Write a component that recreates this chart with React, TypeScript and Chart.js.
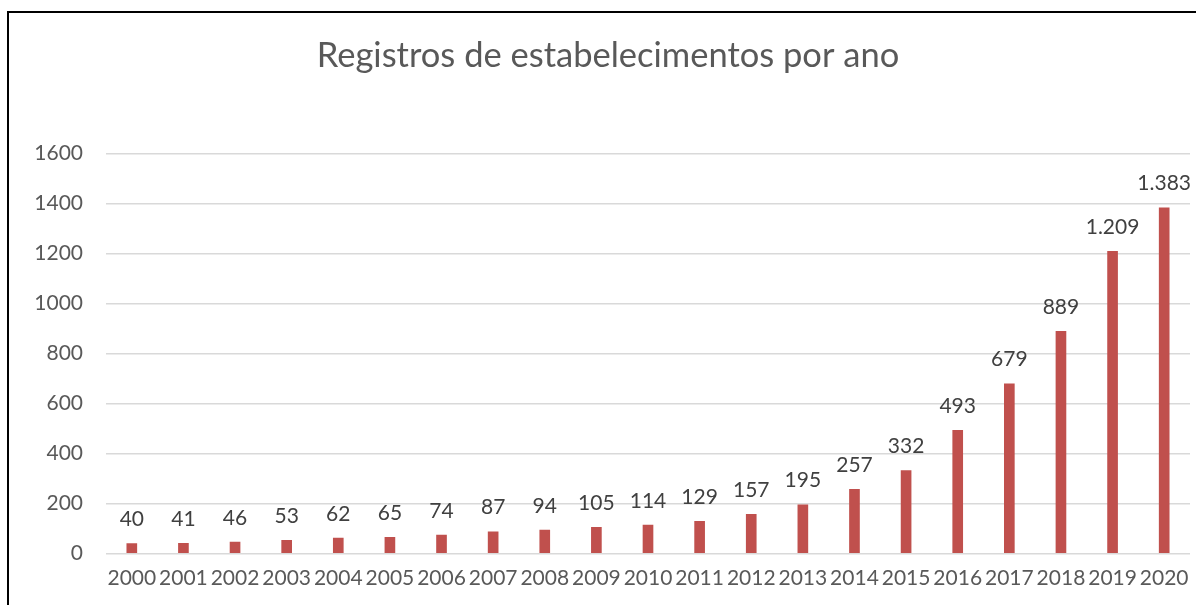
import React, { useEffect, useRef } from "react";
import { Chart, registerables } from "chart.js";

Chart.register(...registerables);

const years = ["2000","2001","2002","2003","2004","2005","2006","2007","2008","2009","2010","2011","2012","2013","2014","2015","2016","2017","2018","2019","2020"];
const registros = [40, 41, 46, 53, 62, 65, 74, 87, 94, 105, 114, 129, 157, 195, 257, 332, 493, 679, 889, 1209, 1383];
const titleText = "Registros de estabelecimentos por ano";
const yMax = 1600;
const yStep = 200;

const FONT = "Lato, 'Open Sans', sans-serif";

function fmt(v: number): string {
  return String(v).replace(/\B(?=(\d{3})+(?!\d))/g, ".");
}

const labelPlugin = {
  id: "barLabels",
  afterLayout(chart: any) {
    if (chart.titleBlock) {
      chart.titleBlock.left = 26;
      chart.titleBlock.right = 1190;
    }
  },
  afterDatasetsDraw(chart: any) {
    const ctx = chart.ctx;
    const meta = chart.getDatasetMeta(0);
    ctx.save();
    ctx.font = `21px ${FONT}`;
    ctx.fillStyle = "#404040";
    ctx.textAlign = "center";
    ctx.textBaseline = "alphabetic";
    meta.data.forEach((bar: any, i: number) => {
      const v = chart.data.datasets[0].data[i];
      ctx.fillText(fmt(v), bar.x, bar.y - 17.5);
    });
    ctx.restore();
  },
};

export default function App() {
  const ref = useRef<HTMLCanvasElement | null>(null);
  useEffect(() => {
    if (!ref.current) return;
    const chart = new Chart(ref.current, {
      type: "bar",
      data: {
        labels: years,
        datasets: [
          {
            data: registros,
            backgroundColor: "#C0504D",
            barThickness: 10,
          },
        ],
      },
      options: {
        animation: false,
        responsive: false,
        maintainAspectRatio: false,
        layout: { padding: { left: 0, right: 6, top: 0, bottom: 0 } },
        plugins: {
          legend: { display: false },
          tooltip: { enabled: false },
          title: {
            display: true,
            text: titleText,
            color: "#595959",
            font: { family: FONT, size: 34.5, weight: "normal", lineHeight: 1.2 },
            padding: { top: 35.3, bottom: 76.8 },
          },
        },
        scales: {
          x: {
            grid: { display: false, drawTicks: false },
            border: { display: false },
            ticks: {
              color: "#595959",
              font: { family: FONT, size: 21 },
              padding: 12,
              maxRotation: 0,
              autoSkip: false,
            },
            afterFit(scale: any) {
              scale.height = 51.5;
              scale.paddingLeft = 0;
              scale.paddingRight = 0;
            },
          },
          y: {
            min: 0,
            max: yMax,
            ticks: {
              stepSize: yStep,
              color: "#595959",
              font: { family: FONT, size: 21 },
              padding: 23,
              callback: (v: any) => String(v),
            },
            grid: { color: "#d9d9d9", lineWidth: 1.5, drawTicks: false },
            border: { display: false },
            afterFit(scale: any) {
              scale.width = 106;
            },
          },
        },
      },
      plugins: [labelPlugin],
    });
    return () => chart.destroy();
  }, []);

  return (
    <div>
      <canvas
        ref={ref}
        width={1196}
        height={605}
        style={{ position: "fixed", left: 0, top: 0, width: 1196, height: 605 }}
      />
      <div
        style={{
          position: "fixed",
          left: 7,
          top: 11,
          width: 1300,
          height: 700,
          borderLeft: "2px solid #000",
          borderTop: "2px solid #000",
          pointerEvents: "none",
        }}
      />
    </div>
  );
}
